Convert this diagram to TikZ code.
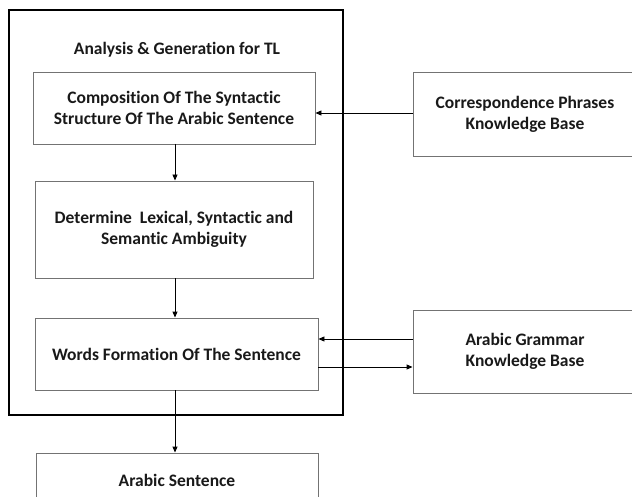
\documentclass[tikz,border=0pt]{standalone}
\usepackage{fontspec}
\setmainfont{Carlito}[Ligatures=NoCommon]
\usetikzlibrary{arrows.meta}
\begin{document}
\begin{tikzpicture}[x=1pt,y=-1pt,
  txt/.style={font=\bfseries\fontsize{17.5}{21}\selectfont,text=black!90},
  box/.style={txt,draw=black!55,line width=0.9pt,fill=white,inner sep=0pt,align=center},
  arr/.style={line width=0.9pt,-{Triangle[length=6pt,width=5pt]}},
  frame/.style={draw=black,line width=2.4pt}]
\useasboundingbox (0,0) rectangle (632,497);
\begin{scope}
\clip (0,0) rectangle (632,497);
\draw[frame] (9,10) rectangle (343,415);
\node[txt] (title) at (177,50) {Analysis \& Generation for TL};
\node[box,minimum width=282pt,minimum height=72pt] (b1) at (174,108) {Composition Of The Syntactic\\Structure Of The Arabic Sentence};
\node[box,minimum width=278pt,minimum height=97pt] (b2) at (174,229.5) {Determine\ \ Lexical, Syntactic and\\Semantic Ambiguity};
\node[box,minimum width=283pt,minimum height=72pt] (b3) at (176.5,354) {Words Formation Of The Sentence};
\node[box,minimum width=282pt,minimum height=54pt] (b4) at (177,480) {Arabic Sentence};
\node[box,minimum width=224pt,minimum height=84pt] (r1) at (525,114) {Correspondence Phrases\\Knowledge Base};
\node[box,minimum width=224pt,minimum height=83pt] (r2) at (525,351.5) {Arabic Grammar\\Knowledge Base};
\draw[arr] (175,144) coordinate (s1) -- (s1 |- b2.north);
\draw[arr] (175,278) coordinate (s2) -- (s2 |- b3.north);
\draw[arr] (175,390) coordinate (s3) -- (s3 |- b4.north);
\draw[arr] ([yshift=1pt]r1.west) -- ([yshift=1pt]r1.west -| b1.east);
\draw[arr] ([yshift=12.5pt]r2.west) -- ([yshift=12.5pt]r2.west -| b3.east);
\draw[arr] ([yshift=-15.5pt]r2.west -| b3.east) -- ([yshift=-15.5pt]r2.west);
\end{scope}
\end{tikzpicture}
\end{document}
